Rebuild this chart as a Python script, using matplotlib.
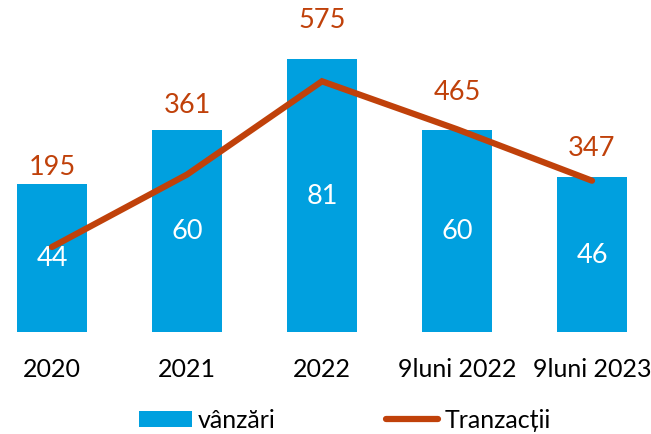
import matplotlib.pyplot as plt

categories = ["2020", "2021", "2022", "9luni 2022", "9luni 2023"]
vanzari = [44, 60, 81, 60, 46]
tranzactii = [195, 361, 575, 465, 347]

# label offsets above the line points (pixels), set by hand like in the original
label_offsets = [80, 70, 62, 38, 33]

BAR_COLOUR = '#00A0DF'
LINE_COLOUR = '#C0410A'
FONT = ['Lato', 'DejaVu Sans']

plt.rcParams['font.family'] = FONT

fig = plt.figure(figsize=(6.51, 4.35), dpi=100)
ax = fig.add_axes([0, 0.2345, 1, 0.6966])
x = range(len(categories))

bars = ax.bar(x, vanzari, width=0.52, color=BAR_COLOUR, label='vânzări')
ax.bar_label(bars, label_type='center', color='white', fontsize=19.5)
ax.set_ylim(0, 90)
ax.set_xlim(-0.385, 4.437)

ax2 = ax.twinx()
ax2.plot(x, tranzactii, color=LINE_COLOUR, lw=4.5, solid_capstyle='round',
         solid_joinstyle='miter', label='Tranzacții')
ax2.set_ylim(0, 695)
for i, (v, off) in enumerate(zip(tranzactii, label_offsets)):
    ax2.annotate(str(v), (i, v), xytext=(0, off), textcoords='offset pixels',
                 ha='center', va='center', color=LINE_COLOUR, fontsize=19.5)

for a in (ax, ax2):
    for s in a.spines.values():
        s.set_visible(False)
    a.set_yticks([])
ax.tick_params(axis='x', length=0, pad=18, labelsize=18)
ax.set_xticks(list(x))
ax.set_xticklabels(categories)

h1, l1 = ax.get_legend_handles_labels()
h2, l2 = ax2.get_legend_handles_labels()
fig.legend(h1 + h2, l1 + l2, loc='center', bbox_to_anchor=(345 / 651, 1 - 421 / 435),
           ncol=2, frameon=False, fontsize=18, handlelength=2.1, handleheight=0.6,
           handletextpad=0.25, columnspacing=4.4)

fig.savefig('out.png', dpi=100)
